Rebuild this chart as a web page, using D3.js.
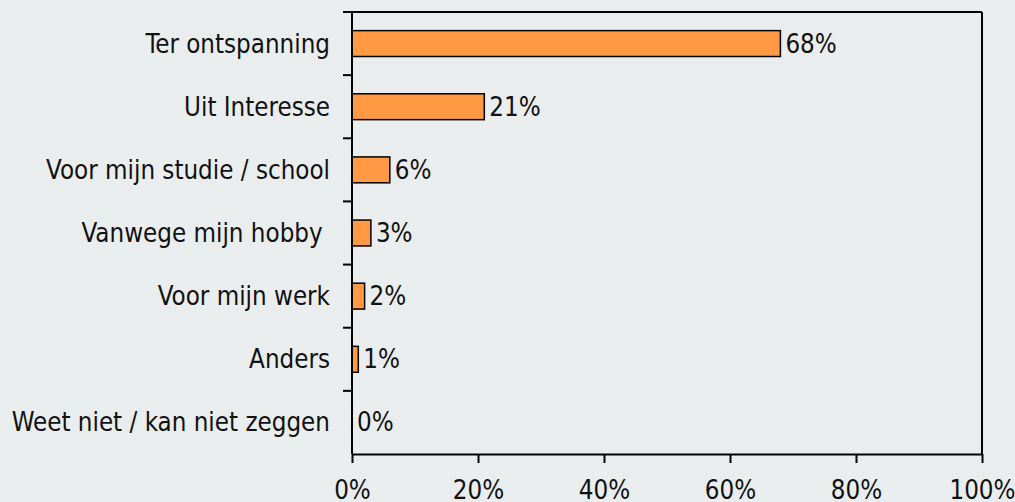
<!DOCTYPE html>
<html>
<head>
<meta charset="utf-8">
<script src="https://cdn.jsdelivr.net/npm/d3@7"></script>
<style>
  html, body { margin: 0; padding: 0; background: #e9edee; }
  svg { display: block; font-family: "DejaVu Sans Condensed", "DejaVu Sans", Verdana, sans-serif; font-stretch: condensed; }
  text { white-space: pre; }
</style>
</head>
<body>
<svg id="chart" width="1015" height="502"></svg>
<script>
// Reasons given, share of respondents (%)
const categories = [
  "Ter ontspanning",
  "Uit Interesse",
  "Voor mijn studie / school",
  "Vanwege mijn hobby ",
  "Voor mijn werk",
  "Anders",
  "Weet niet / kan niet zeggen"
];
const values = [68, 21, 6, 3, 2, 1, 0];
const xTicks = [0, 20, 40, 60, 80, 100];

const FONT = "DejaVu Sans Condensed, DejaVu Sans, Verdana, sans-serif";
const FS = 25.7;

const svg = d3.select("#chart");
const W = 1015, H = 502;
const margin = { top: 12, right: 33, bottom: 48, left: 352 };
const innerW = W - margin.left - margin.right;
const innerH = H - margin.top - margin.bottom;

svg.append("rect").attr("width", W).attr("height", H).attr("fill", "#e9edee");

const g = svg.append("g").attr("transform", `translate(${margin.left},${margin.top})`);

const x = d3.scaleLinear().domain([0, 100]).range([0, innerW]);
const y = d3.scaleBand().domain(categories).range([0, innerH]).paddingInner(0.59).paddingOuter(0.295);
const band = d3.scaleBand().domain(categories).range([0, innerH]);

// Plot frame (top and right)
g.append("line").attr("x1", 0).attr("x2", innerW).attr("y1", 0).attr("y2", 0)
  .attr("stroke", "#000").attr("stroke-width", 2);
g.append("line").attr("x1", innerW).attr("x2", innerW).attr("y1", 0).attr("y2", innerH)
  .attr("stroke", "#000").attr("stroke-width", 2);

// Bars
g.selectAll("rect.bar").data(values).join("rect")
  .attr("class", "bar")
  .attr("x", 0)
  .attr("y", (d, i) => y(categories[i]))
  .attr("width", d => x(d))
  .attr("height", y.bandwidth())
  .attr("fill", "#ff9944")
  .attr("stroke", d => d > 0 ? "#000" : "none")
  .attr("stroke-width", 1.5);

// Value labels
g.selectAll("text.val").data(values).join("text")
  .attr("class", "val")
  .attr("x", d => x(d) + 5)
  .attr("y", (d, i) => y(categories[i]) + y.bandwidth() / 2)
  .attr("dy", "0.35em")
  .attr("font-size", FS)
  .attr("fill", "#111")
  .text(d => d + "%");

// Y axis: ticks at category boundaries
const yAxis = g.append("g");
yAxis.append("line").attr("x1", 0).attr("x2", 0).attr("y1", 0).attr("y2", innerH)
  .attr("stroke", "#000").attr("stroke-width", 2);
yAxis.selectAll("line.tick").data(categories).join("line")
  .attr("class", "tick")
  .attr("x1", -9).attr("x2", 0)
  .attr("y1", d => band(d)).attr("y2", d => band(d))
  .attr("stroke", "#000").attr("stroke-width", 2);
yAxis.selectAll("text").data(categories).join("text")
  .attr("x", -22)
  .attr("y", d => band(d) + band.bandwidth() / 2)
  .attr("dy", "0.35em")
  .attr("text-anchor", "end")
  .attr("font-size", FS)
  .attr("fill", "#111")
  .text(d => d);

// X axis
const xAxis = g.append("g").attr("transform", `translate(0,${innerH})`)
  .call(d3.axisBottom(x).tickValues(xTicks).tickFormat(d => d + "%").tickSizeOuter(0).tickSizeInner(9).tickPadding(18));
xAxis.select(".domain").attr("stroke", "#000").attr("stroke-width", 2);
xAxis.selectAll(".tick line").attr("stroke", "#000").attr("stroke-width", 2);
xAxis.selectAll(".tick text").attr("font-size", FS).attr("fill", "#111")
  .attr("font-family", FONT);
</script>
</body>
</html>
